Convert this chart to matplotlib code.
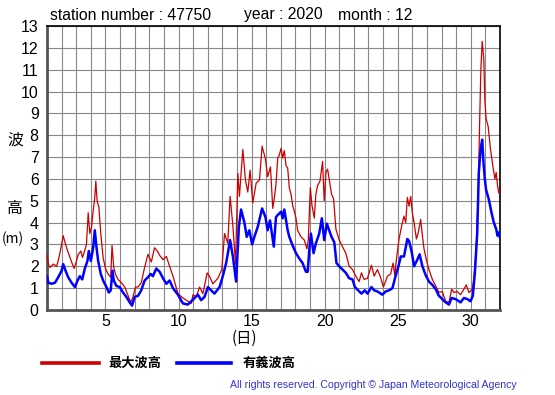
import matplotlib
matplotlib.use('Agg')
import matplotlib.pyplot as plt

# time in days (1.0 = start of day 1), values in metres
t_max = [1.00, 1.09, 1.20, 1.43, 1.66, 1.82, 2.00, 2.11, 2.23, 2.34, 2.50, 2.68, 2.86,
         3.02, 3.14, 3.32, 3.43, 3.55, 3.70, 3.82, 3.93, 4.05, 4.16, 4.27, 4.34, 4.43,
         4.55, 4.68, 4.84, 5.00, 5.18, 5.36, 5.45, 5.57, 5.68, 5.86, 6.09, 6.32, 6.55,
         6.73, 6.89, 7.05, 7.23, 7.45, 7.68, 7.91, 8.14, 8.36, 8.55, 8.71, 8.94, 9.17,
         9.39, 9.62, 9.96, 10.30, 10.64, 10.87, 10.99, 11.21, 11.44, 11.67, 11.96, 12.12,
         12.35, 12.69, 12.96, 13.15, 13.37, 13.53, 13.72, 13.90, 14.06, 14.17, 14.40,
         14.58, 14.74, 14.90, 15.08, 15.31, 15.54, 15.72, 15.95, 16.10, 16.29, 16.45,
         16.56, 16.67, 16.79, 16.90, 17.02, 17.13, 17.24, 17.36, 17.47, 17.58, 17.70,
         17.81, 17.93, 18.04, 18.15, 18.38, 18.61, 18.79, 18.88, 19.02, 19.13, 19.29,
         19.40, 19.52, 19.68, 19.86, 19.97, 20.09, 20.20, 20.31, 20.47, 20.61, 20.77,
         21.00, 21.22, 21.45, 21.68, 21.91, 22.13, 22.36, 22.52, 22.70, 22.93, 23.20,
         23.39, 23.61, 23.80, 24.02, 24.30, 24.52, 24.68, 24.80, 24.91, 25.09, 25.27,
         25.43, 25.55, 25.66, 25.78, 25.89, 26.00, 26.12, 26.28, 26.41, 26.57, 26.69,
         26.80, 26.96, 27.14, 27.37, 27.60, 27.82, 28.05, 28.28, 28.51, 28.69, 28.85,
         29.07, 29.30, 29.53, 29.69, 29.87, 30.10, 30.21, 30.37, 30.51, 30.60, 30.69,
         30.78, 30.89, 30.96, 31.05, 31.19, 31.35, 31.51, 31.65, 31.74, 31.83, 31.92, 32.00]
h_max = [2.55, 2.1, 1.95, 2.1, 2.0, 2.4, 3.0, 3.4, 3.1, 2.85, 2.55, 2.2, 1.9,
         2.25, 2.55, 2.7, 2.4, 2.65, 3.0, 4.45, 3.5, 3.8, 4.55, 5.15, 5.9, 5.0,
         4.7, 3.5, 2.4, 1.9, 1.65, 1.5, 2.95, 1.95, 1.65, 1.4, 1.25, 1.05, 0.65,
         0.35, 0.6, 1.05, 1.05, 1.25, 1.95, 2.55, 2.2, 2.85, 2.7, 2.5, 2.3, 2.45,
         2.0, 1.55, 0.75, 0.55, 0.4, 0.3, 0.7, 0.6, 1.05, 0.75, 1.7, 1.55,
         1.2, 1.45, 1.85, 3.5, 3.05, 5.2, 3.85, 2.1, 6.25, 5.2, 7.35,
         5.95, 5.4, 6.4, 4.9, 5.8, 5.95, 7.5, 6.9, 6.1, 6.55, 4.65,
         5.15, 5.75, 6.95, 7.1, 7.4, 6.95, 7.3, 6.6, 6.5, 5.6, 5.3,
         4.8, 4.5, 4.2, 3.65, 3.35, 3.2, 2.8, 3.2, 5.6, 4.8, 4.2,
         5.3, 5.7, 5.9, 6.8, 5.0, 6.3, 6.45, 6.0, 5.3, 5.1, 3.7,
         3.2, 2.9, 2.6, 2.0, 1.85, 1.55, 1.3, 1.7, 1.4, 1.45, 2.05,
         1.55, 1.85, 1.55, 1.05, 1.55, 1.65, 2.15, 1.6, 2.3, 3.25, 3.85,
         4.3, 4.0, 5.15, 4.75, 5.2, 4.45, 4.0, 3.25, 3.55, 4.15, 3.4,
         2.8, 2.3, 1.85, 1.4, 1.1, 0.8, 0.85, 0.4, 0.35, 0.95, 0.8,
         0.85, 0.7, 0.95, 1.15, 0.8, 0.95, 1.4, 2.8, 5.35, 8.4, 11.0,
         12.3, 11.5, 9.65, 8.75, 8.4, 7.35, 6.6, 6.0, 6.3, 5.7, 5.35, 5.5]

t_sig = [1.00, 1.09, 1.32, 1.55, 1.77, 2.00, 2.11, 2.27, 2.45, 2.68, 2.91, 3.09, 3.25,
         3.41, 3.59, 3.77, 3.86, 4.00, 4.16, 4.27, 4.39, 4.50, 4.68, 4.84, 5.07, 5.23,
         5.36, 5.48, 5.57, 5.75, 5.98, 6.20, 6.43, 6.66, 6.82, 7.00, 7.23, 7.45, 7.68,
         7.91, 8.09, 8.25, 8.48, 8.71, 8.94, 9.17, 9.39, 9.62, 9.96, 10.30, 10.64,
         10.87, 11.10, 11.33, 11.55, 11.78, 12.01, 12.24, 12.46, 12.81, 13.03, 13.26,
         13.53, 13.72, 13.94, 14.13, 14.28, 14.51, 14.67, 14.85, 15.04, 15.19, 15.42,
         15.72, 15.95, 16.10, 16.26, 16.52, 16.67, 16.79, 17.02, 17.13, 17.24, 17.36,
         17.47, 17.58, 17.81, 18.04, 18.27, 18.49, 18.72, 18.84, 18.95, 19.06, 19.24,
         19.40, 19.63, 19.81, 19.97, 20.15, 20.31, 20.47, 20.66, 20.81, 21.00, 21.22,
         21.45, 21.68, 21.91, 22.07, 22.29, 22.52, 22.75, 22.93, 23.20, 23.39, 23.61,
         23.95, 24.18, 24.41, 24.64, 24.87, 25.05, 25.21, 25.43, 25.66, 25.78, 25.96,
         26.12, 26.34, 26.50, 26.69, 26.91, 27.14, 27.37, 27.60, 27.82, 28.05, 28.28,
         28.51, 28.69, 28.96, 29.30, 29.53, 29.76, 29.98, 30.14, 30.28, 30.44, 30.55,
         30.67, 30.78, 30.87, 30.96, 31.05, 31.24, 31.42, 31.58, 31.74, 31.83, 31.92, 32.00]
h_sig = [1.55, 1.25, 1.2, 1.25, 1.5, 1.8, 2.1, 1.8, 1.5, 1.25, 1.05, 1.35, 1.55,
         1.4, 1.9, 2.25, 2.7, 2.25, 2.85, 3.65, 2.85, 2.25, 1.65, 1.35, 1.05, 0.8,
         0.9, 1.8, 1.35, 1.1, 1.05, 0.8, 0.6, 0.35, 0.2, 0.6, 0.65, 0.9, 1.35,
         1.5, 1.65, 1.55, 1.9, 1.75, 1.45, 1.2, 1.35, 1.0, 0.7, 0.3, 0.25,
         0.4, 0.55, 0.7, 0.45, 0.6, 1.05, 0.9, 0.75, 1.05, 1.55, 2.15,
         3.2, 2.45, 1.3, 3.8, 4.6, 4.0, 3.35, 3.65, 3.0, 3.35, 3.8,
         4.65, 4.25, 3.65, 4.1, 2.9, 4.25, 4.35, 4.5, 4.2, 4.6, 4.1,
         3.65, 3.35, 2.95, 2.6, 2.35, 2.15, 1.75, 1.75, 2.75, 3.5, 2.6,
         3.05, 3.5, 4.2, 3.2, 3.95, 3.65, 3.35, 3.1, 2.15, 2.0, 1.85,
         1.7, 1.45, 1.4, 1.05, 0.9, 0.75, 0.9, 0.75, 1.05, 0.9, 0.85,
         0.7, 0.85, 0.9, 1.0, 1.6, 2.0, 2.45, 2.45, 3.25, 3.15, 2.65,
         2.0, 2.3, 2.55, 2.0, 1.6, 1.3, 1.15, 0.95, 0.65, 0.5, 0.35,
         0.25, 0.55, 0.5, 0.35, 0.55, 0.5, 0.4, 0.65, 1.7, 3.5, 6.3,
         7.35, 7.8, 6.75, 6.0, 5.5, 5.05, 4.45, 4.0, 3.7, 3.4, 3.55, 3.3]

day_ticks = [5, 10, 15, 20, 25, 30]
y_ticks = list(range(0, 14))

W, H = 555, 395
fig = plt.figure(figsize=(W / 100, H / 100), dpi=100)
ax = fig.add_axes([47 / W, 1 - 310 / H, (500 - 47) / W, (310 - 26) / H])

ax.plot(t_max, h_max, color='#cc0000', lw=0.9, zorder=3)
ax.plot(t_sig, h_sig, color='#0000ff', lw=1.8, zorder=4)

ax.set_xlim(1, 32)
ax.set_ylim(0, 13)
ax.set_xticks(range(1, 33), minor=True)
ax.set_xticks(day_ticks)
ax.set_yticks(y_ticks)
ax.grid(True, which='both', color='#888888', lw=0.8)
ax.tick_params(which='both', length=0)
ax.tick_params(axis='y', pad=6, labelsize=11.5)
ax.tick_params(axis='x', pad=3, labelsize=11.5)
for lab in ax.get_xticklabels() + ax.get_yticklabels():
    lab.set_family('Liberation Sans')
for s in ['left', 'bottom']:
    ax.spines[s].set_color('#555555')
    ax.spines[s].set_linewidth(2)
for s in ['top', 'right']:
    ax.spines[s].set_color('black')
    ax.spines[s].set_linewidth(1.2)

def px(x, y):
    return x / W, 1 - y / H

sans = ['Liberation Sans', 'DejaVu Sans']
cjk = ['Noto Sans CJK JP', 'DejaVu Sans']
fig.text(*px(50, 15), 'station number : 47750', fontsize=11.3, family=sans, va='center')
fig.text(*px(244, 15), 'year : 2020', fontsize=11.3, family=sans, va='center')
fig.text(*px(338, 15), 'month : 12', fontsize=11.3, family=sans, va='center')

fig.text(*px(15, 140), '波', fontsize=11.5, family=cjk, ha='center', va='center')
fig.text(*px(15, 208), '高', fontsize=11.5, family=cjk, ha='center', va='center')
fig.text(*px(13, 239), '(m)', fontsize=10, family=cjk, ha='center', va='center')
fig.text(*px(244, 338), '(日)', fontsize=11, family=cjk, ha='center', va='center')

fig.add_artist(plt.Line2D([42 / W, 99 / W], [1 - 363 / H] * 2, color='#cc0000', lw=2.6))
fig.text(*px(108, 363), '最大波高', fontsize=9.5, family=cjk, weight='bold', va='center')
fig.add_artist(plt.Line2D([177 / W, 231 / W], [1 - 363 / H] * 2, color='#0000ff', lw=2.6))
fig.text(*px(243, 363), '有義波高', fontsize=9.5, family=cjk, weight='bold', va='center')

fig.text(*px(517, 385), 'All rights reserved. Copyright © Japan Meteorological Agency',
         fontsize=7.6, family=sans, color='#3333cc', ha='right', va='center')

fig.savefig('out.png', dpi=100)
